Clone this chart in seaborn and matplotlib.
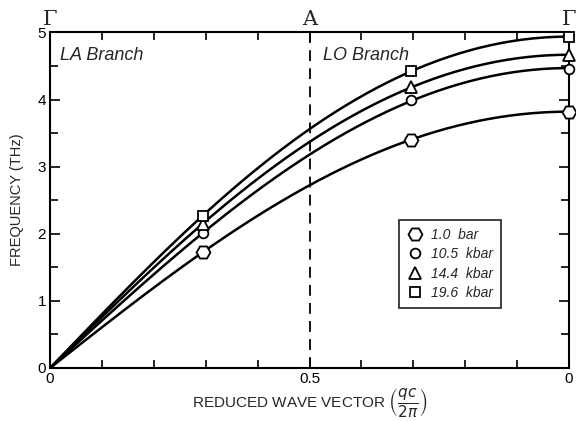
import numpy as np
import pandas as pd
import seaborn as sns
import matplotlib.pyplot as plt
from matplotlib.lines import Line2D

# measured phonon frequencies (THz) at reduced wave vector q
q = [0.295, 0.695, 1.0]
freq_1bar = [1.73, 3.40, 3.82]
freq_105kbar = [2.01, 3.99, 4.46]
freq_144kbar = [2.15, 4.19, 4.66]
freq_196kbar = [2.27, 4.43, 4.93]

labels = ["1.0  bar", "10.5  kbar", "14.4  kbar", "19.6  kbar"]
markers = ["H", "o", "^", "s"]
msizes = [10, 7, 8, 7]

sns.set_style("ticks")
plt.rcParams['font.family'] = ['Liberation Sans', 'DejaVu Sans']
plt.rcParams['mathtext.fontset'] = 'dejavusans'

fig = plt.figure(figsize=(5.76, 4.21), dpi=100)
ax = fig.add_axes([0.087, 0.126, 0.901, 0.797])

series = [freq_1bar, freq_105kbar, freq_144kbar, freq_196kbar]
rows = []
for lab, vals in zip(labels, series):
    for x, y in zip(q, vals):
        rows.append({"q": x, "f": y, "p": lab})
df = pd.DataFrame(rows)

# smooth dispersion fit through origin with flat slope at zone boundary
qq = np.linspace(0, 1, 200)
basis = lambda x: np.column_stack([np.sin(np.pi * np.asarray(x) / 2),
                                   np.sin(3 * np.pi * np.asarray(x) / 2)])
curves = []
for lab, vals in zip(labels, series):
    coef, *_ = np.linalg.lstsq(basis(q), np.array(vals), rcond=None)
    curves.append(pd.DataFrame({"q": qq, "f": basis(qq) @ coef, "p": lab}))
curve_df = pd.concat(curves)

sns.lineplot(data=curve_df, x="q", y="f", units="p", estimator=None,
             color="black", lw=1.8, ax=ax, legend=False)

handles = []
for lab, m, s in zip(labels, markers, msizes):
    sub = df[df.p == lab]
    ax.plot(sub.q, sub.f, ls="none", marker=m, ms=s, mfc="white",
            mec="black", mew=1.3, zorder=5, clip_on=False)
    handles.append(Line2D([], [], ls="none", marker=m, ms=s, mfc="white",
                          mec="black", mew=1.3))

ax.axvline(0.5, color="black", ls=(0, (6, 4)), lw=1.3)

ax.set_xlim(0, 1)
ax.set_ylim(0, 5)
ax.set_xticks([0, 0.5, 1.0])
ax.set_xticklabels(["0", "0.5", "0"], fontsize=11)
ax.set_xticks(np.arange(0.1, 1.0, 0.1), minor=True)
ax.set_yticks(range(6))
ax.set_yticklabels([str(i) for i in range(6)], fontsize=11)
ax.set_yticks(np.arange(0.5, 5, 1.0), minor=True)
ax.tick_params(which="both", direction="in", top=True, right=True,
               width=1.2, colors="black")
ax.tick_params(which="major", length=7, pad=3)
ax.tick_params(which="minor", length=6)
for sp in ax.spines.values():
    sp.set_linewidth(1.5)
    sp.set_color("black")

ax.set_ylabel("FREQUENCY (THz)", fontsize=10.5, labelpad=10)
ax.set_xlabel(r"REDUCED WAVE VECTOR $\left(\dfrac{qc}{2\pi}\right)$",
              fontsize=11, labelpad=0)

for x, t in [(0, "Γ"), (0.5, "A"), (1.0, "Γ")]:
    ax.text(x, 1.01, t, transform=ax.transAxes, ha="center", va="bottom",
            fontsize=15, family="DejaVu Serif")

ax.text(0.02, 4.66, "LA Branch", style="italic", fontsize=13, va="center")
ax.text(0.525, 4.66, "LO Branch", style="italic", fontsize=13, va="center")

leg = ax.legend(handles, labels, loc="lower left",
                bbox_to_anchor=(0.658, 0.158), frameon=True, fancybox=False,
                edgecolor="black", handletextpad=0.6, borderpad=0.55,
                labelspacing=0.4, handlelength=1.2,
                prop={"style": "italic", "size": 10})
leg.get_frame().set_linewidth(1.3)

fig.savefig("out.png", dpi=100)
